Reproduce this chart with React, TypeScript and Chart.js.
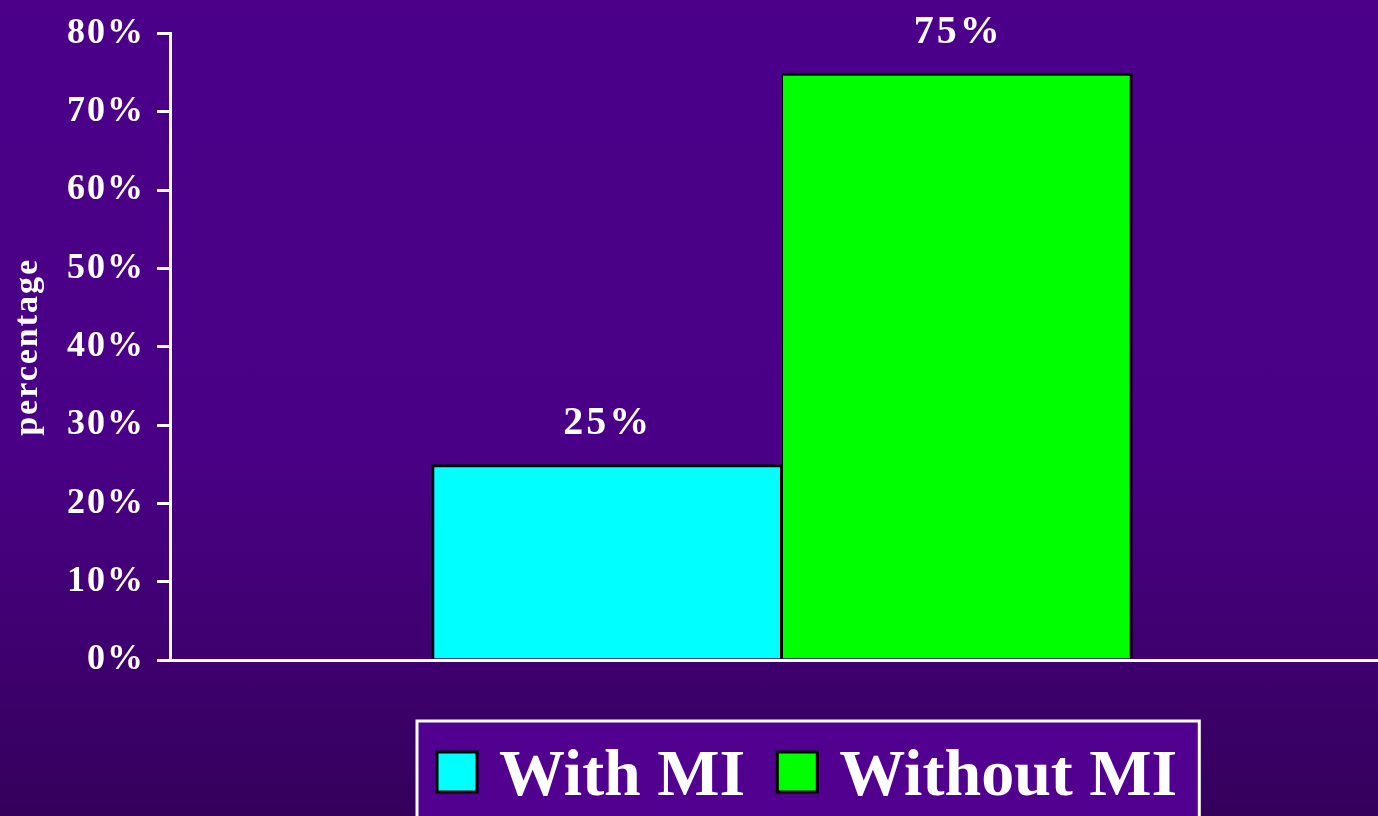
import React, { useEffect, useRef } from "react";
import { Chart, registerables } from "chart.js";

Chart.register(...registerables);

const categories: string[] = [""];
const seriesNames: string[] = ["With MI", "Without MI"];
const withMI: number[] = [25];
const withoutMI: number[] = [75];
const seriesColors: string[] = ["#00FFFF", "#00FF00"];
const yTicks: number[] = [0, 10, 20, 30, 40, 50, 60, 70, 80];
const yTitle = "percentage";

const FONT = '"Liberation Serif", "Times New Roman", serif';

export default function App() {
  const ref = useRef<HTMLCanvasElement | null>(null);

  useEffect(() => {
    if (!ref.current) return;
    const spacingPlugin = {
      id: "spacing",
      beforeUpdate(chart: any) {
        (chart.ctx as any).letterSpacing = "2px";
      },
      beforeLayout(chart: any) {
        (chart.ctx as any).letterSpacing = "2px";
      },
      beforeDraw(chart: any) {
        (chart.ctx as any).letterSpacing = "2px";
      },
    };
    const valueLabels = {
      id: "valueLabels",
      afterDatasetsDraw(chart: any) {
        const ctx = chart.ctx;
        ctx.save();
        (ctx as any).letterSpacing = "3px";
        ctx.fillStyle = "#FFFFFF";
        ctx.font = `bold 40px ${FONT}`;
        ctx.textAlign = "center";
        ctx.textBaseline = "alphabetic";
        chart.data.datasets.forEach((ds: any, i: number) => {
          const meta = chart.getDatasetMeta(i);
          meta.data.forEach((bar: any, j: number) => {
            ctx.fillText(`${ds.data[j]}%`, bar.x + 1, bar.y - 30);
          });
        });
        ctx.restore();
      },
    };
    const boxedLegend = {
      id: "boxedLegend",
      afterDraw(chart: any) {
        const ctx = chart.ctx;
        ctx.save();
        (ctx as any).letterSpacing = "0px";
        ctx.font = `bold 66px ${FONT}`;
        const startX = 437;
        const boxW = 40;
        const boxH = 40;
        const boxTop = 752;
        const baseline = 795;
        const gapBoxText = 22;
        const gapItems = 32;
        let x = startX;
        const items = chart.data.datasets.map((ds: any) => {
          const w = ctx.measureText(ds.label).width;
          const it = { label: ds.label, color: ds.backgroundColor, bx: x, tx: x + boxW + gapBoxText, w };
          x = x + boxW + gapBoxText + w + gapItems;
          return it;
        });
        const right = x - gapItems + 22;
        const frameLeft = startX - 20;
        const frameTop = 721;
        ctx.fillStyle = "#51008F";
        ctx.fillRect(frameLeft, frameTop, right - frameLeft, 120);
        ctx.strokeStyle = "#FFFFFF";
        ctx.lineWidth = 3;
        ctx.strokeRect(frameLeft, frameTop, right - frameLeft, 120);
        items.forEach((it: any) => {
          ctx.fillStyle = it.color;
          ctx.fillRect(it.bx, boxTop, boxW, boxH);
          ctx.strokeStyle = "#000000";
          ctx.lineWidth = 3;
          ctx.strokeRect(it.bx, boxTop, boxW, boxH);
          ctx.fillStyle = "#FFFFFF";
          ctx.textAlign = "left";
          ctx.textBaseline = "alphabetic";
          ctx.fillText(it.label, it.tx, baseline);
        });
        ctx.restore();
      },
    };

    const chart = new Chart(ref.current, {
      type: "bar",
      data: {
        labels: categories,
        datasets: [
          {
            label: seriesNames[0],
            data: withMI,
            backgroundColor: seriesColors[0],
            borderColor: "#000000",
            borderWidth: { left: 3, top: 3, right: 2, bottom: 0 },
            borderSkipped: "bottom",
          },
          {
            label: seriesNames[1],
            data: withoutMI,
            backgroundColor: seriesColors[1],
            borderColor: "#000000",
            borderWidth: { left: 1, top: 3, right: 3, bottom: 0 },
            borderSkipped: "bottom",
          },
        ],
      },
      options: {
        responsive: false,
        animation: false,
        devicePixelRatio: 1,
        layout: { padding: { top: 31, left: 0, right: 0, bottom: 0 } },
        datasets: {
          bar: { barPercentage: 1, categoryPercentage: 0.573 },
        },
        plugins: {
          legend: { display: false },
          tooltip: { enabled: false },
          title: { display: false },
        },
        scales: {
          x: {
            z: 1,
            grid: { display: false },
            ticks: { display: false },
            border: { display: true, color: "#FFFFFF", width: 3 },
            afterFit(scale: any) {
              scale.height = 156;
            },
          },
          y: {
            min: 0,
            max: 80,
            afterBuildTicks(scale: any) {
              scale.ticks = yTicks.map((v) => ({ value: v }));
            },
            ticks: {
              color: "#FFFFFF",
              font: { family: FONT, size: 36, weight: "bold" },
              padding: 12,
              callback: (v: any) => `${v}%`,
            },
            grid: {
              display: true,
              drawOnChartArea: false,
              drawTicks: true,
              tickLength: 13,
              color: "#FFFFFF",
              lineWidth: 3,
            },
            border: { display: true, color: "#FFFFFF", width: 3 },
            title: {
              display: true,
              text: yTitle,
              color: "#FFFFFF",
              font: { family: FONT, size: 34, weight: "bold" },
              padding: { top: 8, bottom: 0 },
            },
            afterFit(scale: any) {
              scale.width = 170;
            },
          },
        },
      },
      plugins: [spacingPlugin, valueLabels, boxedLegend],
    } as any);
    return () => chart.destroy();
  }, []);

  return (
    <div
      style={{
        position: "absolute",
        left: 0,
        top: 0,
        width: 1378,
        height: 816,
        overflow: "hidden",
        background: "linear-gradient(to bottom, #4C008A 0%, #4A0086 55%, #3F006F 80%, #34005C 100%)",
      }}
    >
      <canvas ref={ref} width={1394} height={816} style={{ display: "block" }} />
    </div>
  );
}
